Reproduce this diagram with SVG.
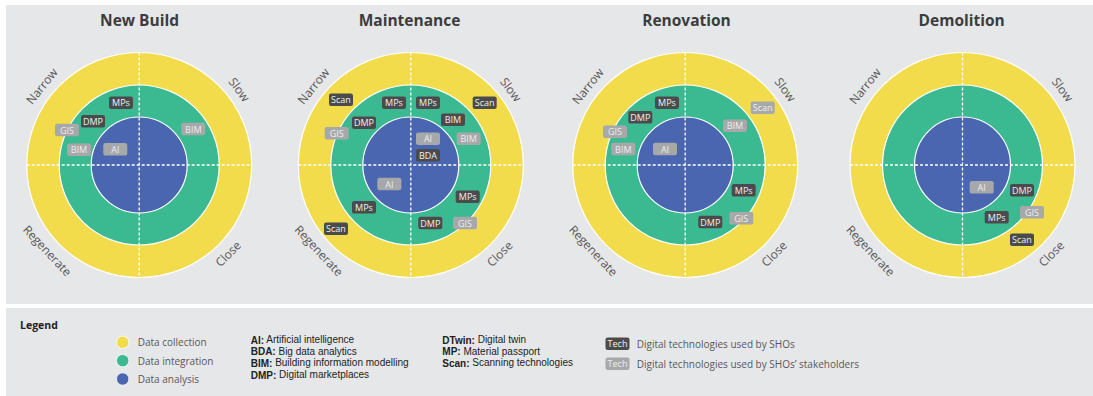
<svg xmlns="http://www.w3.org/2000/svg" width="1093" height="396" viewBox="0 0 1093 396">
<style>
.panel{fill:#e6e7e8}
.y{fill:#f2dc4b;stroke:#fff;stroke-width:1.2}
.g{fill:#3bba92;stroke:#fff;stroke-width:1.2}
.b{fill:#4a66b0;stroke:#fff;stroke-width:1.2}
.axis{stroke:#fff;stroke-width:1.3;stroke-dasharray:3 2;fill:none}
.title{font-family:"Open Sans","Noto Sans",sans-serif;font-weight:700;font-size:15.5px;fill:#3c3c3e;text-anchor:middle}
.ring{font-family:"Open Sans","Noto Sans",sans-serif;font-size:12px;fill:#58585a;text-anchor:middle;dominant-baseline:central}
.td{fill:#4b4b4d}
.tl{fill:#a7a8aa}
.tt{font-family:"Open Sans","Noto Sans",sans-serif;font-size:9px;text-anchor:middle;dominant-baseline:central}
.tdt{fill:#f0f0f0}
.tlt{fill:#eeeeee}
.lg{font-family:"Open Sans","Noto Sans",sans-serif;font-size:10px;fill:#58585a;dominant-baseline:central}
.ab{font-family:"Liberation Sans",Arial,sans-serif;font-size:10px;fill:#222;dominant-baseline:central}
.ab tspan.k{font-weight:700}
.lgh{font-family:"Open Sans","Noto Sans",sans-serif;font-size:10.5px;font-weight:700;fill:#222;dominant-baseline:central}
</style>
<defs>
<g id="wheel">
<circle class="y" r="112.5"/>
<circle class="g" r="80"/>
<circle class="b" r="48"/>
<line class="axis" x1="-112.5" y1="0" x2="112.5" y2="0"/>
<line class="axis" x1="0" y1="-112.5" x2="0" y2="112.5"/>
<text class="ring" transform="rotate(-141) translate(125.5 0) rotate(90)" x="0" y="0">Narrow</text>
<text class="ring" transform="rotate(-37) translate(125.5 0) rotate(90)" x="0" y="0">Slow</text>
<text class="ring" transform="rotate(137) translate(125.5 0) rotate(-90)" x="0" y="0">Regenerate</text>
<text class="ring" transform="rotate(45) translate(125.5 0) rotate(-90)" x="0" y="0">Close</text>
</g>
<rect id="tagd" class="td" x="-12" y="-6.3" width="24" height="12.6" rx="2.2"/>
<rect id="tagl" class="tl" x="-12" y="-6.3" width="24" height="12.6" rx="2.2"/>
</defs>
<rect width="1093" height="396" fill="#fff"/>
<rect class="panel" x="6" y="5" width="1087" height="299"/>
<rect class="panel" x="6" y="308" width="1087" height="88"/>

<g id="newbuild">
<text class="title" x="139.5" y="25.5">New Build</text>
<use href="#wheel" transform="translate(139.2 165)"/>
<g transform="translate(121 102.7)"><use href="#tagd"/><text class="tt tdt">MPs</text></g>
<g transform="translate(93 121.3)"><use href="#tagd"/><text class="tt tdt">DMP</text></g>
<g transform="translate(67 130)"><use href="#tagl"/><text class="tt tlt">GIS</text></g>
<g transform="translate(193.3 129)"><use href="#tagl"/><text class="tt tlt">BIM</text></g>
<g transform="translate(79 149.7)"><use href="#tagl"/><text class="tt tlt">BIM</text></g>
<g transform="translate(115.3 149.3)"><use href="#tagl"/><text class="tt tlt">AI</text></g>
</g>

<g id="maintenance">
<text class="title" x="409.5" y="25.5">Maintenance</text>
<use href="#wheel" transform="translate(410.8 165)"/>
<g transform="translate(341 99.7)"><use href="#tagd"/><text class="tt tdt">Scan</text></g>
<g transform="translate(394 102.7)"><use href="#tagd"/><text class="tt tdt">MPs</text></g>
<g transform="translate(428 102.7)"><use href="#tagd"/><text class="tt tdt">MPs</text></g>
<g transform="translate(484.7 102.7)"><use href="#tagd"/><text class="tt tdt">Scan</text></g>
<g transform="translate(364 122.7)"><use href="#tagd"/><text class="tt tdt">DMP</text></g>
<g transform="translate(453 119.7)"><use href="#tagd"/><text class="tt tdt">BIM</text></g>
<g transform="translate(336.7 133.3)"><use href="#tagl"/><text class="tt tlt">GIS</text></g>
<g transform="translate(428 138.7)"><use href="#tagl"/><text class="tt tlt">AI</text></g>
<g transform="translate(468.7 138.7)"><use href="#tagl"/><text class="tt tlt">BIM</text></g>
<g transform="translate(428 155.3)"><use href="#tagd"/><text class="tt tdt">BDA</text></g>
<g transform="translate(389.3 184)"><use href="#tagl"/><text class="tt tlt">AI</text></g>
<g transform="translate(467.7 196.7)"><use href="#tagd"/><text class="tt tdt">MPs</text></g>
<g transform="translate(364 207.3)"><use href="#tagd"/><text class="tt tdt">MPs</text></g>
<g transform="translate(430.3 223)"><use href="#tagd"/><text class="tt tdt">DMP</text></g>
<g transform="translate(465 223)"><use href="#tagl"/><text class="tt tlt">GIS</text></g>
<g transform="translate(336 228.7)"><use href="#tagd"/><text class="tt tdt">Scan</text></g>
</g>

<g id="renovation">
<text class="title" x="686.5" y="25.5">Renovation</text>
<use href="#wheel" transform="translate(685.2 165)"/>
<g transform="translate(667 102.7)"><use href="#tagd"/><text class="tt tdt">MPs</text></g>
<g transform="translate(640.3 117.3)"><use href="#tagd"/><text class="tt tdt">DMP</text></g>
<g transform="translate(762.7 107.7)"><use href="#tagl"/><text class="tt tlt">Scan</text></g>
<g transform="translate(615 131.7)"><use href="#tagl"/><text class="tt tlt">GIS</text></g>
<g transform="translate(735 125.7)"><use href="#tagl"/><text class="tt tlt">BIM</text></g>
<g transform="translate(623.3 149)"><use href="#tagl"/><text class="tt tlt">BIM</text></g>
<g transform="translate(665 149)"><use href="#tagl"/><text class="tt tlt">AI</text></g>
<g transform="translate(743.7 190.3)"><use href="#tagd"/><text class="tt tdt">MPs</text></g>
<g transform="translate(710.3 222)"><use href="#tagd"/><text class="tt tdt">DMP</text></g>
<g transform="translate(741.3 218.3)"><use href="#tagl"/><text class="tt tlt">GIS</text></g>
</g>

<g id="demolition">
<text class="title" x="961.7" y="25.5">Demolition</text>
<use href="#wheel" transform="translate(962.5 165)"/>
<g transform="translate(981.7 187.3)"><use href="#tagl"/><text class="tt tlt">AI</text></g>
<g transform="translate(1022 190.3)"><use href="#tagd"/><text class="tt tdt">DMP</text></g>
<g transform="translate(1032 212.3)"><use href="#tagl"/><text class="tt tlt">GIS</text></g>
<g transform="translate(996.7 217.3)"><use href="#tagd"/><text class="tt tdt">MPs</text></g>
<g transform="translate(1022 239.7)"><use href="#tagd"/><text class="tt tdt">Scan</text></g>
</g>

<g id="connectors"></g>

<g id="legend">
<text class="lgh" x="20" y="325">Legend</text>
<circle cx="122.7" cy="342.3" r="6.2" fill="#f2dc4b" stroke="#fff" stroke-width="0.8"/>
<circle cx="122.7" cy="360.7" r="6.2" fill="#3bba92" stroke="#fff" stroke-width="0.8"/>
<circle cx="122.7" cy="379" r="6.2" fill="#4a66b0" stroke="#fff" stroke-width="0.8"/>
<text class="lg" x="137.7" y="342.3">Data collection</text>
<text class="lg" x="137.7" y="360.7">Data integration</text>
<text class="lg" x="137.7" y="379">Data analysis</text>
<text class="ab" x="250.7" y="339.5"><tspan class="k">AI:</tspan> Artificial intelligence</text>
<text class="ab" x="250.7" y="351.2"><tspan class="k">BDA:</tspan> Big data analytics</text>
<text class="ab" x="250.7" y="362.9"><tspan class="k">BIM:</tspan> Building information modelling</text>
<text class="ab" x="250.7" y="374.6"><tspan class="k">DMP:</tspan> Digital marketplaces</text>
<text class="ab" x="442.3" y="339.5"><tspan class="k">DTwin:</tspan> Digital twin</text>
<text class="ab" x="442.3" y="351.2"><tspan class="k">MP:</tspan> Material passport</text>
<text class="ab" x="442.3" y="362.9"><tspan class="k">Scan:</tspan> Scanning technologies</text>
<g transform="translate(617.5 343.7)"><use href="#tagd"/><text class="tt tdt">Tech</text></g>
<g transform="translate(617.5 363.7)"><use href="#tagl"/><text class="tt tlt">Tech</text></g>
<text class="lg" x="636.7" y="343.7">Digital technologies used by SHOs</text>
<text class="lg" x="636.7" y="364">Digital technologies used by SHOs’ stakeholders</text>
</g>
</svg>
